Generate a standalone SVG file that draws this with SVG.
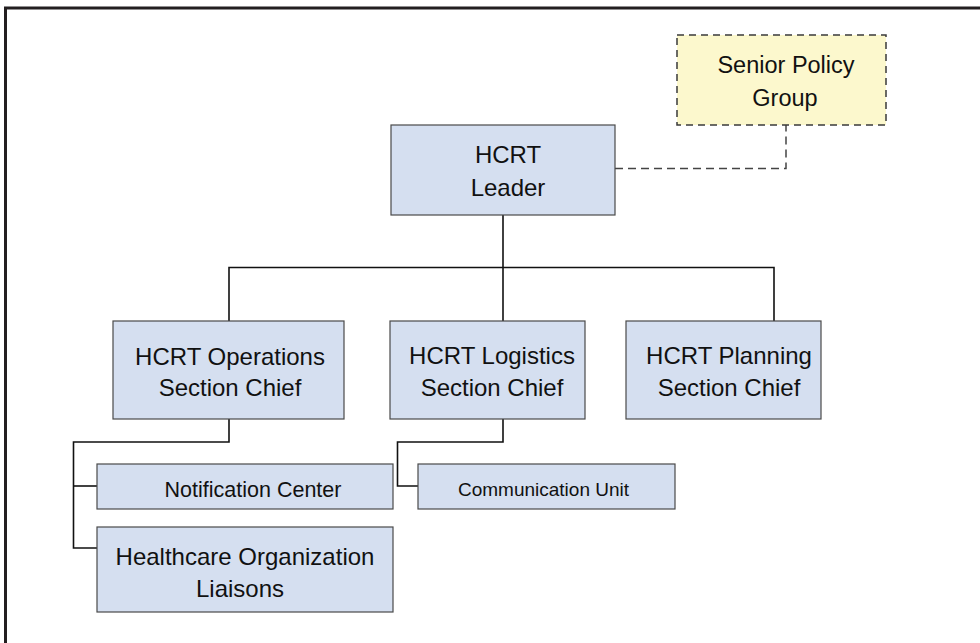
<svg xmlns="http://www.w3.org/2000/svg" width="980" height="643" viewBox="0 0 980 643">
<style>
.box{fill:#d5dff0;stroke:#4a4a4a;stroke-width:1.2}
.sp{fill:#fcf8cd;stroke:#3a3a3a;stroke-width:1.5;stroke-dasharray:7 5}
.t{font-family:"Liberation Sans",Arial,sans-serif;fill:#111;text-anchor:middle}
.big{font-size:24px}
.mid{font-size:23.5px}
.nc{font-size:21.5px}
.cu{font-size:19px}
.con{fill:none;stroke:#111;stroke-width:1.6}
.dash{fill:none;stroke:#444;stroke-width:1.5;stroke-dasharray:8 5}
</style>
<rect x="0" y="0" width="980" height="643" fill="#fff"/>
<path d="M5.5,643 V8 H980" fill="none" stroke="#231f20" stroke-width="3"/>
<g id="connectors">
<path class="dash" d="M615,168.5 H786 V125"/>
<path class="con" d="M503,215 V321"/>
<path class="con" d="M229,321 V267.5 H774 V321"/>
<path class="con" d="M229,419 V442 H73.5 V548 H97"/>
<path class="con" d="M73.5,486 H97"/>
<path class="con" d="M503,419 V442 H397.5 V486 H418"/>
</g>
<g id="senior-policy-group">
<rect class="sp" x="677" y="35" width="209" height="90"/>
<text class="t mid" x="786" y="73">Senior Policy</text>
<text class="t mid" x="785" y="106">Group</text>
</g>
<g id="hcrt-leader">
<rect class="box" x="391" y="125" width="224" height="90"/>
<text class="t big" x="508" y="163">HCRT</text>
<text class="t big" x="508" y="196">Leader</text>
</g>
<g id="operations">
<rect class="box" x="113" y="321" width="231" height="98"/>
<text class="t big" x="230" y="365">HCRT Operations</text>
<text class="t big" x="230" y="396">Section Chief</text>
</g>
<g id="logistics">
<rect class="box" x="390" y="321" width="195" height="98"/>
<text class="t big" x="492" y="364">HCRT Logistics</text>
<text class="t big" x="492" y="396">Section Chief</text>
</g>
<g id="planning">
<rect class="box" x="626" y="321" width="195" height="98"/>
<text class="t big" x="729" y="364">HCRT Planning</text>
<text class="t big" x="729" y="396">Section Chief</text>
</g>
<g id="notification-center">
<rect class="box" x="97" y="464" width="296" height="45"/>
<text class="t nc" x="253" y="497">Notification Center</text>
</g>
<g id="healthcare-liaisons">
<rect class="box" x="97" y="527" width="296" height="85"/>
<text class="t big" x="245" y="565">Healthcare Organization</text>
<text class="t big" x="240" y="597">Liaisons</text>
</g>
<g id="communication-unit">
<rect class="box" x="418" y="464" width="257" height="45"/>
<text class="t cu" x="543.5" y="496">Communication Unit</text>
</g>
</svg>
